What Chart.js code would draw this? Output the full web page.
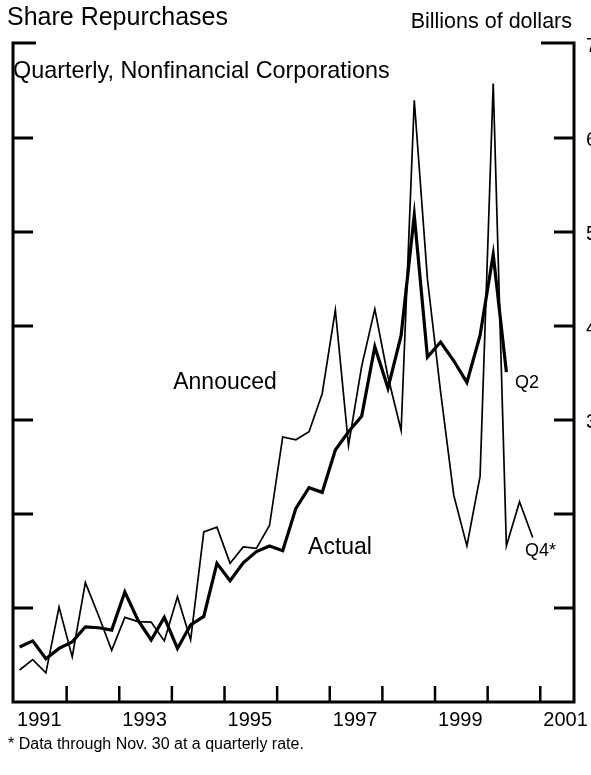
<!DOCTYPE html>
<html>
<head>
<meta charset="utf-8">
<script src="https://cdn.jsdelivr.net/npm/chart.js@4.4.1/dist/chart.umd.min.js"></script>
<style>
  html, body { margin: 0; padding: 0; background: #fff; }
  #wrap { width: 591px; height: 775px; position: relative; }
</style>
</head>
<body>
<div id="wrap"><canvas id="chart" width="591" height="775"></canvas></div>
<script>
// quarterly, 1991 Q1 onward
const years = [1991, 1992, 1993, 1994, 1995, 1996, 1997, 1998, 1999, 2000];
const quarters = [];
years.forEach(y => [1, 2, 3, 4].forEach(q => quarters.push(y + ' Q' + q)));

// billions of dollars
const actual = [5.85, 6.5, 4.6, 5.7, 6.4, 8.0, 7.9, 7.65, 11.7, 8.7,
  6.6, 9.0, 5.7, 8.2, 9.1, 14.75, 12.9, 14.8, 16.0, 16.6,
  16.1, 20.6, 22.8, 22.3, 26.8, 28.75, 30.4, 37.8, 33.4, 39.0,
  51.8, 36.7, 38.3, 36.3, 34.0, 39.0, 47.6, 35.1];
const announced = [3.4, 4.5, 3.1, 10.1, 4.8, 12.7, 9.2, 5.5, 9.0, 8.55,
  8.5, 6.5, 11.2, 6.6, 18.1, 18.6, 14.75, 16.5, 16.35, 18.8,
  28.2, 27.9, 28.75, 32.8, 41.7, 27.3, 35.7, 41.8, 34.6, 28.9,
  64.0, 45.0, 33.0, 22.0, 16.6, 24.0, 65.8, 16.6, 21.3, 17.5];

const yearLabels = ['1991', '1993', '1995', '1997', '1999', '2001'];
const yTicks = [10, 20, 30, 40, 50, 60];
const yLabels = ['70', '60', '50', '40', '30'];

function quarterPos(label) {
  const parts = label.split(' Q');
  return Number(parts[0]) + (Number(parts[1]) - 0.5) / 4;
}

function toPoints(values) {
  return values.map((v, i) => ({ x: quarterPos(quarters[i]), y: v }));
}

const FONT = '"Liberation Sans", Arial, sans-serif';

const framePlugin = {
  id: 'frame',
  afterDraw(chart) {
    const ctx = chart.ctx;
    const xs = chart.scales.x, ys = chart.scales.y;
    const L = chart.chartArea.left, R = chart.chartArea.right;
    const T = chart.chartArea.top, B = chart.chartArea.bottom;
    ctx.save();
    ctx.strokeStyle = '#000';
    ctx.lineCap = 'butt';

    // axes frame
    ctx.lineWidth = 3;
    ctx.beginPath();
    ctx.moveTo(L + 23, T - 1); ctx.lineTo(L, T - 1); ctx.lineTo(L, B); ctx.lineTo(R, B);
    ctx.lineTo(R, T - 1); ctx.lineTo(R - 33, T - 1);
    ctx.stroke();

    // y ticks, both sides
    yTicks.forEach(v => {
      const y = ys.getPixelForValue(v);
      ctx.beginPath();
      ctx.moveTo(L, y); ctx.lineTo(L + 20, y);
      ctx.moveTo(R - 20, y); ctx.lineTo(R, y);
      ctx.stroke();
    });

    // x ticks at year boundaries
    ctx.lineWidth = 2.5;
    for (let yr = years[0] + 1; yr <= years[years.length - 1] + 1; yr++) {
      const x = xs.getPixelForValue(yr) + 1;
      ctx.beginPath();
      ctx.moveTo(x, B); ctx.lineTo(x, B - 16);
      ctx.stroke();
    }

    ctx.fillStyle = '#000';
    // x labels centred in the year
    ctx.font = '20px ' + FONT;
    ctx.textAlign = 'center';
    ctx.textBaseline = 'middle';
    yearLabels.forEach(lbl => {
      ctx.fillText(lbl, xs.getPixelForValue(Number(lbl) + 0.5), 720);
    });

    // right-hand labels, clipped by the page edge
    ctx.textAlign = 'left';
    yLabels.forEach(lbl => {
      ctx.fillText(lbl, R + 12, ys.getPixelForValue(Number(lbl)) + 2);
    });

    // titles
    ctx.font = '25px ' + FONT;
    ctx.fillText('Share Repurchases', 7, 18);
    ctx.font = '21.5px ' + FONT;
    ctx.textAlign = 'right';
    ctx.fillText('Billions of dollars', 572, 22);
    ctx.textAlign = 'left';
    ctx.font = '23.4px ' + FONT;
    ctx.fillText('Quarterly, Nonfinancial Corporations', 13, 72);

    // series labels
    ctx.font = '23px ' + FONT;
    ctx.textAlign = 'center';
    ctx.fillText('Annouced', 225, 383);
    ctx.fillText('Actual', 340, 548);
    ctx.textAlign = 'left';
    ctx.font = '18px ' + FONT;
    ctx.fillText('Q2', 515, 383);
    ctx.fillText('Q4*', 525, 551);

    // footnote
    ctx.font = '16px ' + FONT;
    ctx.fillText('* Data through Nov. 30 at a quarterly rate.', 8, 745);
    ctx.restore();
  }
};

new Chart(document.getElementById('chart'), {
  type: 'line',
  data: {
    datasets: [{
      label: 'Announced',
      data: toPoints(announced),
      borderColor: '#000',
      borderWidth: 1.7,
      pointRadius: 0,
      tension: 0
    }, {
      label: 'Actual',
      data: toPoints(actual),
      borderColor: '#000',
      borderWidth: 3.2,
      pointRadius: 0,
      tension: 0
    }]
  },
  options: {
    responsive: false,
    animation: false,
    devicePixelRatio: 1,
    layout: { padding: { left: 13, right: 17, top: 44, bottom: 73 } },
    plugins: { legend: { display: false }, tooltip: { enabled: false } },
    scales: {
      x: { type: 'linear', min: 1991, max: 2001.66, display: false },
      y: { min: 0, max: 70, display: false }
    }
  },
  plugins: [framePlugin]
});
</script>
</body>
</html>
